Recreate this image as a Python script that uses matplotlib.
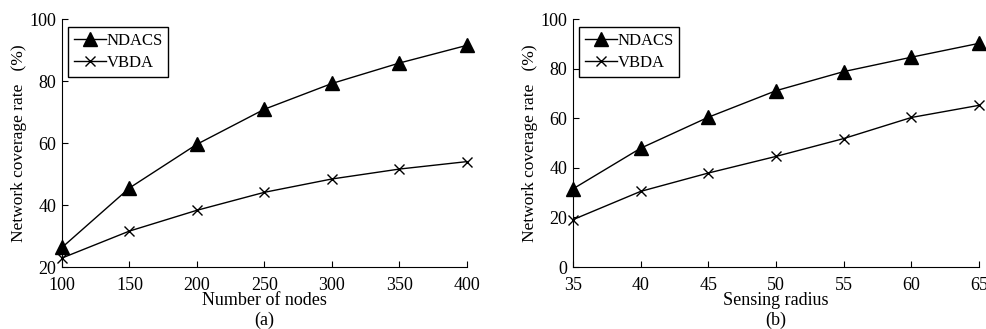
import numpy as np
import matplotlib
matplotlib.use('Agg')
import matplotlib.pyplot as plt

plt.rcParams['font.family'] = 'Liberation Serif'
plt.rcParams['font.size'] = 13

# panel (a): coverage vs number of nodes
nodes = [100, 150, 200, 250, 300, 350, 400]
ndacs_a = [26.3, 45.5, 59.6, 70.9, 79.2, 85.8, 91.5]
vbda_a = [22.9, 31.6, 38.3, 44.1, 48.4, 51.6, 54.0]

# panel (b): coverage vs sensing radius
radius = [35, 40, 45, 50, 55, 60, 65]
ndacs_b = [31.5, 47.9, 60.4, 71.1, 78.8, 84.6, 90.2]
vbda_b = [19.1, 30.5, 37.9, 44.6, 51.8, 60.3, 65.2]

fig = plt.figure(figsize=(9.87, 3.29), dpi=100)
ax1 = fig.add_axes([0.0628, 0.1884, 0.4102, 0.7538])
ax2 = fig.add_axes([0.5805, 0.1884, 0.4115, 0.7538])


def draw(ax, x, y1, y2, xlabel, tag, ylim, yticks):
    ax.plot(x, y1, 'k-', marker='^', markersize=9.5, lw=1, label='NDACS', clip_on=False)
    ax.plot(x, y2, 'k-', marker='x', markersize=6.5, mew=1, lw=1, label='VBDA', clip_on=False)
    ax.set_xlim(x[0], x[-1])
    ax.set_ylim(*ylim)
    ax.set_xticks(x)
    ax.set_yticks(yticks)
    for s in ['top', 'right']:
        ax.spines[s].set_visible(False)
    ax.tick_params(direction='in', length=4)
    ax.tick_params(axis='x', pad=7)
    ax.tick_params(axis='y', pad=4)
    ax.set_xlabel(xlabel + '\n' + tag, labelpad=-1, linespacing=1.15)
    ax.set_ylabel('Network coverage rate   (%)', labelpad=2, fontsize=12.5)
    leg = ax.legend(loc='upper left', bbox_to_anchor=(0.015, 0.968), borderaxespad=0,
                    fancybox=False, edgecolor='black', framealpha=1, handlelength=1.9,
                    handletextpad=0.05, borderpad=0.35, labelspacing=0.38, fontsize=12)
    leg.get_frame().set_linewidth(1)


draw(ax1, nodes, ndacs_a, vbda_a, 'Number of nodes', '(a)', (20, 100), [20, 40, 60, 80, 100])
draw(ax2, radius, ndacs_b, vbda_b, 'Sensing radius', '(b)', (0, 100), [0, 20, 40, 60, 80, 100])

fig.savefig('out.png', dpi=100)
